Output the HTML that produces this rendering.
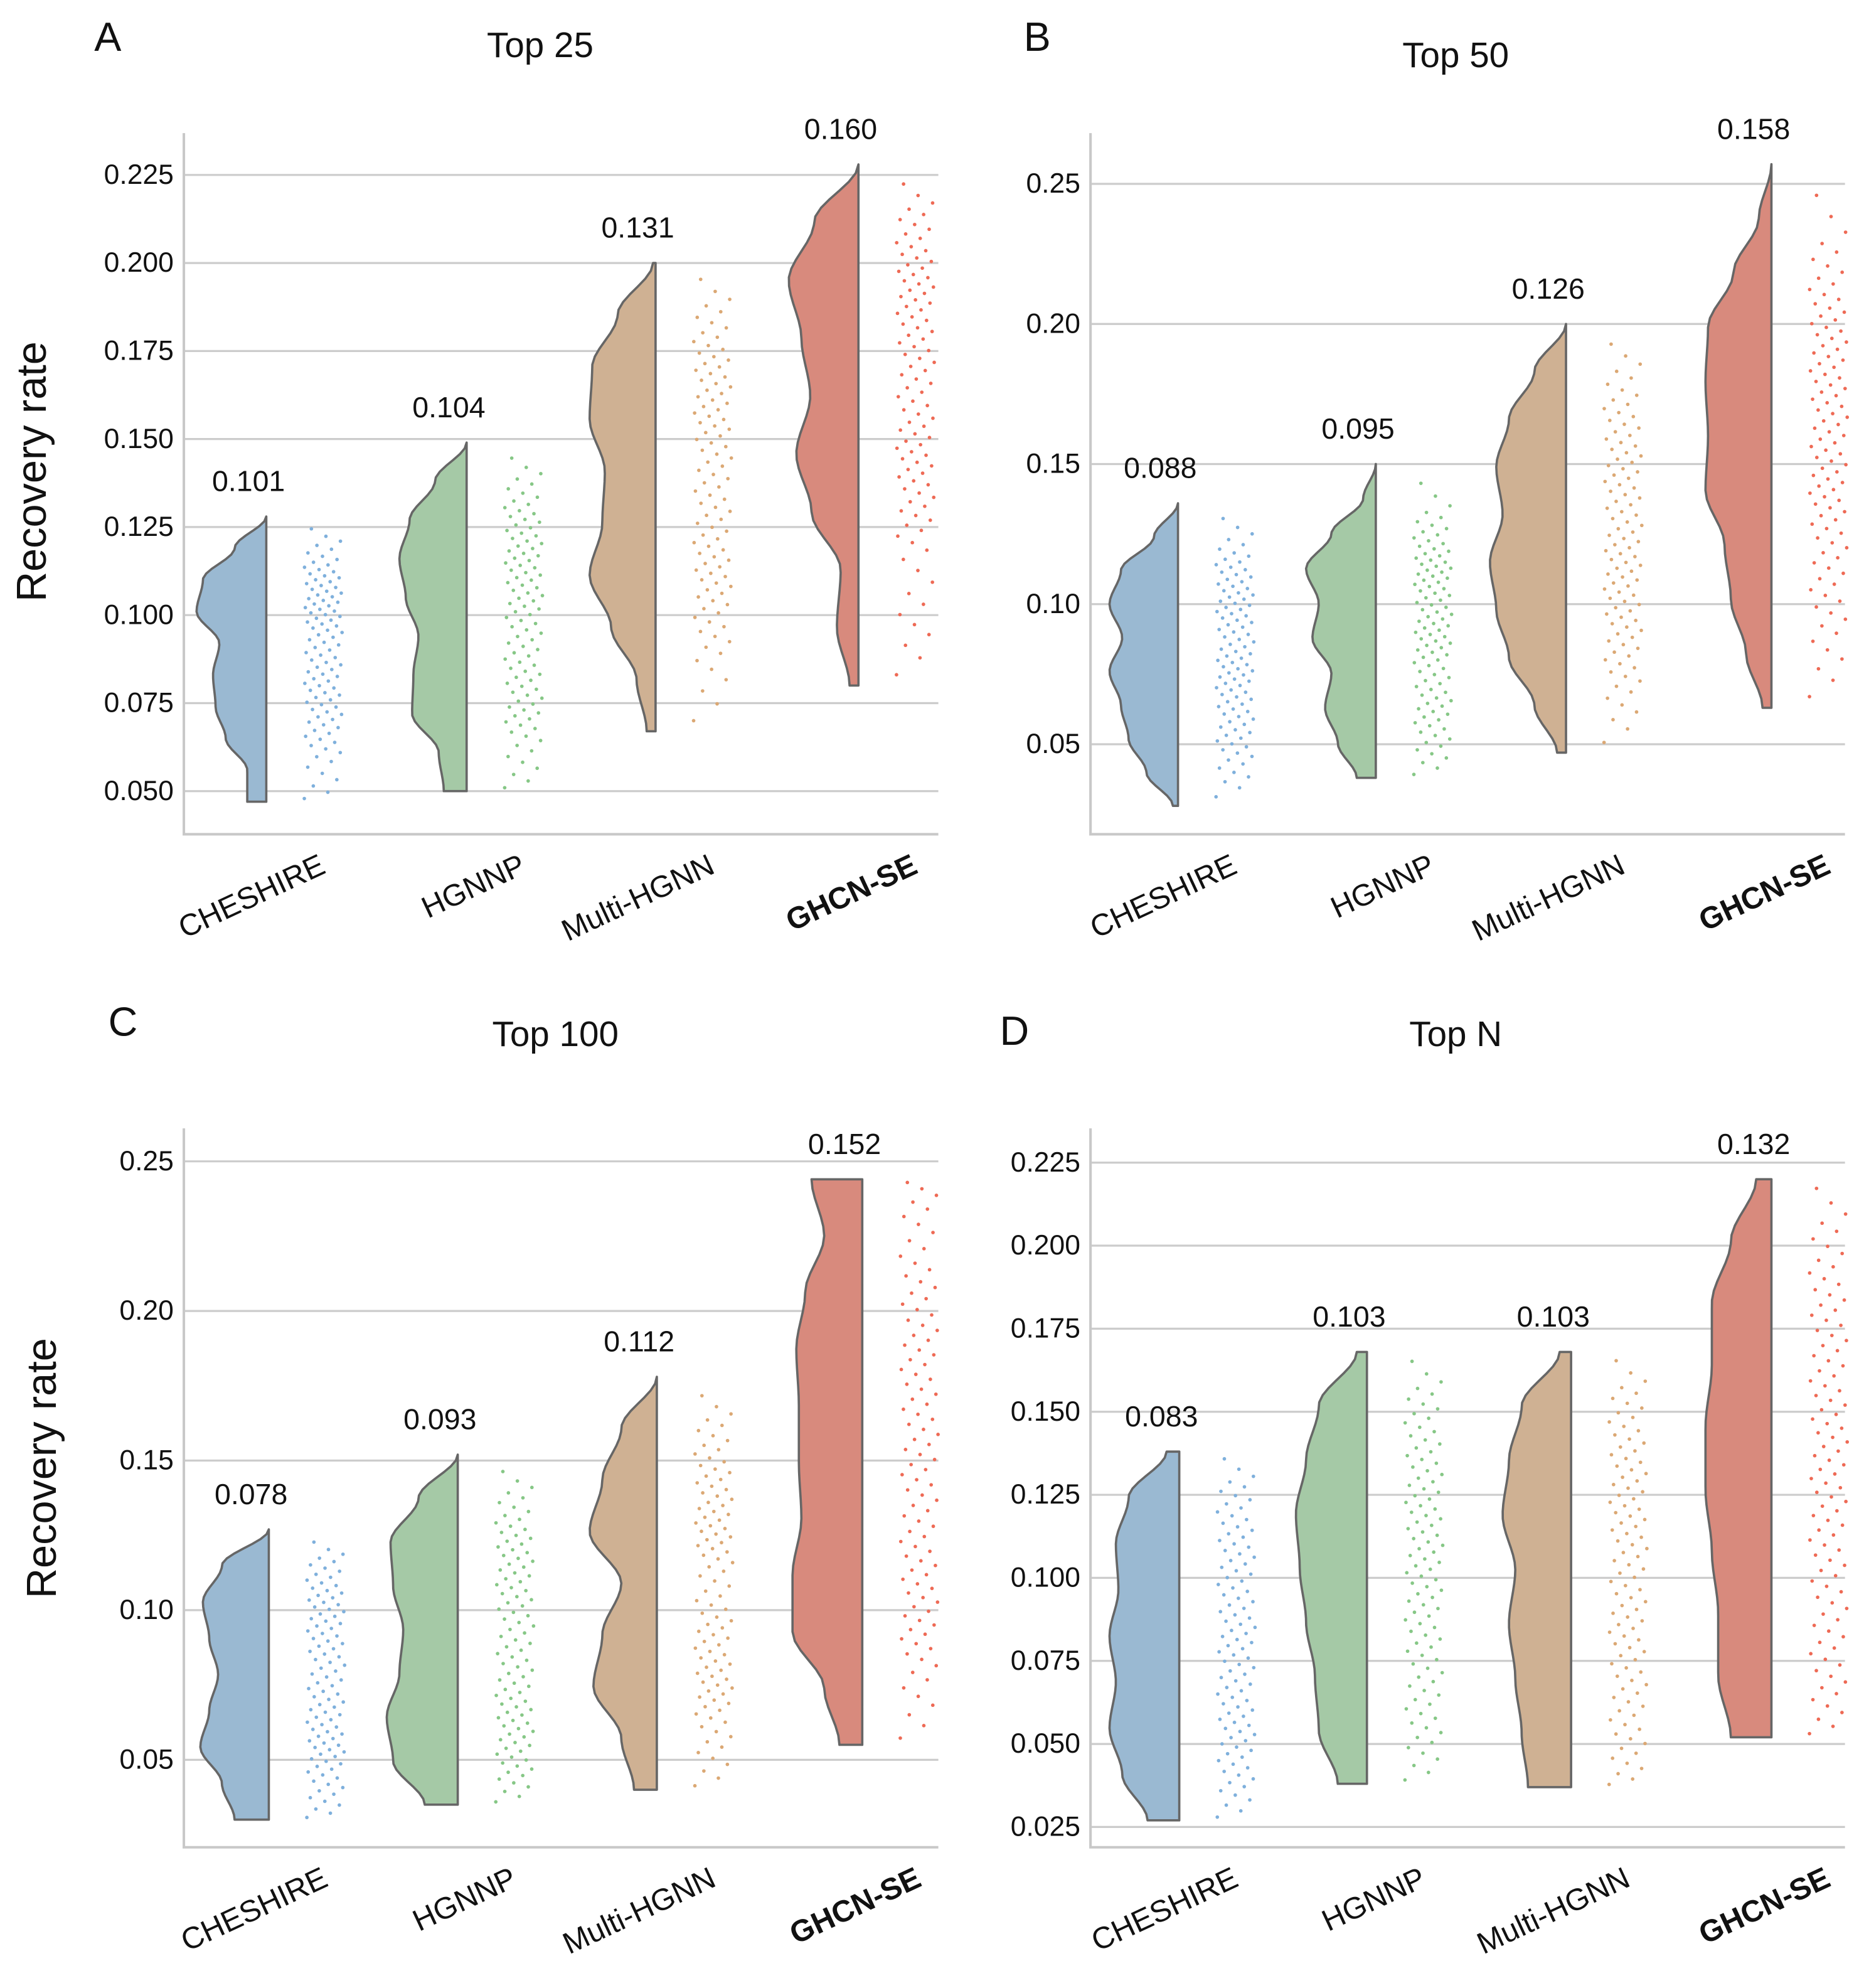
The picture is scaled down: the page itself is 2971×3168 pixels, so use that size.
<!DOCTYPE html>
<html><head><meta charset="utf-8"><style>
html,body{margin:0;padding:0;background:#fff}
svg{display:block}
text{font-family:"Liberation Sans","DejaVu Sans",sans-serif;fill:#111}
</style></head><body>
<svg id="chart" xmlns="http://www.w3.org/2000/svg" width="2971" height="3168" viewBox="0 0 1470 1568" preserveAspectRatio="none"></svg>
<script>
const categories = ["CHESHIRE","HGNNP","Multi-HGNN","GHCN-SE"];
const panelTitles = ["Top 25","Top 50","Top 100","Top N"];
const panelLetters = ["A","B","C","D"];
const tickLabelsA = ["0.050","0.075","0.100","0.125","0.150","0.175","0.200","0.225"];
const tickLabelsB = ["0.05","0.10","0.15","0.20","0.25"];
const tickLabelsC = ["0.05","0.10","0.15","0.20","0.25"];
const tickLabelsD = ["0.025","0.050","0.075","0.100","0.125","0.150","0.175","0.200","0.225"];
const mediansA = [0.101,0.104,0.131,0.160];
const mediansB = [0.088,0.095,0.126,0.158];
const mediansC = [0.078,0.093,0.112,0.152];
const mediansD = [0.083,0.103,0.103,0.132];
const minsA = [0.047,0.050,0.067,0.080];
const maxsA = [0.128,0.149,0.200,0.228];
const minsB = [0.028,0.038,0.047,0.063];
const maxsB = [0.136,0.150,0.200,0.257];
const minsC = [0.030,0.035,0.040,0.055];
const maxsC = [0.127,0.152,0.178,0.244];
const minsD = [0.027,0.038,0.037,0.052];
const maxsD = [0.138,0.168,0.168,0.220];
// density profiles (relative half-widths, bottom to top)
const densA = [[15,15,32,40,42,37,55,50,25,0],[18,22,43,42,38,48,53,45,25,0],[7,15,35,52,42,40,52,50,30,2],[7,17,14,37,49,38,45,55,35,0]];
const densB = [[4,25,39,45,54,44,54,45,19,0],[15,30,40,35,50,45,55,35,10,0],[7,25,45,55,60,50,55,45,25,0],[7,20,32,37,52,50,52,50,30,10,0]];
const densC = [[27,37,54,47,40,47,52,37,0],[26,51,56,46,43,51,53,31,0],[18,28,50,43,28,53,43,28,0],[18,30,55,55,48,50,50,52,45,30,40]];
const densD = [[25,45,55,50,55,48,50,40,10],[23,38,41,48,53,56,48,38,8],[34,39,44,49,44,54,49,39,9],[32,42,42,47,52,52,47,47,32,12]];

const fills=["#9ab9d2","#a5c9a6","#cfb193","#d88a7d"];
const dotCols=["#7fb0dc","#86c786","#dba874","#ee6a55"];
const panels=[
 {l:145,r:740,t:105,b:658,tv:tickLabelsA,med:mediansA,mn:minsA,mx:maxsA,d:densA,v0:0.050,y0:624,v1:0.225,y1:138,edges:[210,368,517,677],title:[426,35],letter:[85,28],yl:[25,372]},
 {l:860,r:1455,t:105,b:658,tv:tickLabelsB,med:mediansB,mn:minsB,mx:maxsB,d:densB,v0:0.05,y0:587,v1:0.25,y1:145,edges:[929,1085,1235,1397],title:[1148,43],letter:[818,28],yl:null},
 {l:145,r:740,t:890,b:1457,tv:tickLabelsC,med:mediansC,mn:minsC,mx:maxsC,d:densC,v0:0.05,y0:1388,v1:0.25,y1:916,edges:[212,361,518,680],title:[438,815],letter:[97,805],yl:[33,1158]},
 {l:860,r:1455,t:890,b:1457,tv:tickLabelsD,med:mediansD,mn:minsD,mx:maxsD,d:densD,v0:0.025,y0:1441,v1:0.225,y1:917,edges:[930,1078,1239,1397],title:[1148,815],letter:[800,812],yl:null}
];
const NS="http://www.w3.org/2000/svg";
const svg=document.getElementById('chart');
function mk(tag,attrs,parent,txt){const e=document.createElementNS(NS,tag);for(const k in attrs)e.setAttribute(k,attrs[k]);if(txt!==undefined)e.textContent=txt;(parent||svg).appendChild(e);return e;}
panels.forEach((p,pi)=>{
 const g=mk('g',{});
 
 
 const y=v=>p.y0+(v-p.v0)*(p.y1-p.y0)/(p.v1-p.v0);
 p.tv.forEach(t=>{const yy=y(parseFloat(t));
  const ln=mk('line',{x1:p.l,x2:p.r,y1:yy,y2:yy,stroke:'#cccccc','stroke-width':1.6},g);
  
  
  const tx=mk('text',{x:p.l-8,y:yy+7,'text-anchor':'end','font-size':22},g,t);
  
  
 });
 const ax=mk('path',{d:`M${p.l},${p.t} V${p.b} H${p.r}`,fill:'none',stroke:'#c8c8c8','stroke-width':2},g);
 
 
 const ti=mk('text',{x:p.title[0],y:p.title[1]+10,'text-anchor':'middle','font-size':28},g,panelTitles[pi]);
 
 
 const le=mk('text',{x:p.letter[0],y:p.letter[1]+12,'text-anchor':'middle','font-size':32},g,panelLetters[pi]);
 
 
 if(p.yl){const yt=mk('text',{x:p.yl[0],y:p.yl[1],'text-anchor':'middle','font-size':33,transform:`rotate(-90 ${p.yl[0]} ${p.yl[1]})`,dy:11},g,'Recovery rate');
  
  }
 categories.forEach((c,ci)=>{
  const e=p.edges[ci],mn=p.mn[ci],mx=p.mx[ci],dn=p.d[ci],n=dn.length;
  let pts=[`M${e},${y(mn)}`];
  const steps=60;
  const wAt=f=>{const s=f*(n-1),i=Math.min(n-2,Math.floor(s)),fr=s-i;const a=dn[i],b=dn[i+1];const sm=fr*fr*(3-2*fr);return a+(b-a)*sm;};
  for(let k=0;k<=steps;k++){const f=k/steps;const v=mn+(mx-mn)*f;pts.push(`L${e-wAt(f)},${y(v)}`);}
  pts.push(`L${e},${y(mx)} Z`);
  const vp=mk('path',{d:pts.join(' '),fill:fills[ci],stroke:'#666','stroke-width':1.8,'stroke-linejoin':'round'},g);
  
  
  const cdf=[0];for(let k=1;k<=steps;k++){cdf.push(cdf[k-1]+wAt(k/steps)+wAt((k-1)/steps)+1);}
  const tot=cdf[steps];const N=100;
  for(let i=0;i<N;i++){const q=(i+0.5)/N*tot;let k=1;while(k<steps&&cdf[k]<q)k++;
   const f=(k-1+(q-cdf[k-1])/(cdf[k]-cdf[k-1]))/steps;const v=mn+(mx-mn)*f;
   const jx=e+45+(((i*0.618034)%1)-0.5)*30;
   const dt=mk('circle',{cx:jx,cy:y(v),r:1.4,fill:dotCols[ci]},g);
   
   }
  const ml=mk('text',{x:e-14,y:y(mx)-20,'text-anchor':'middle','font-size':23},g,p.med[ci].toFixed(3));
  
  
  const lx=e+48,ly=p.b+30;
  const xl=mk('text',{x:lx,y:ly,'text-anchor':'end','font-size':24,'font-weight':ci===3?'bold':'normal',transform:`rotate(-25 ${lx} ${ly})`},g,c);
  
  
 });
});
</script>
</body></html>
